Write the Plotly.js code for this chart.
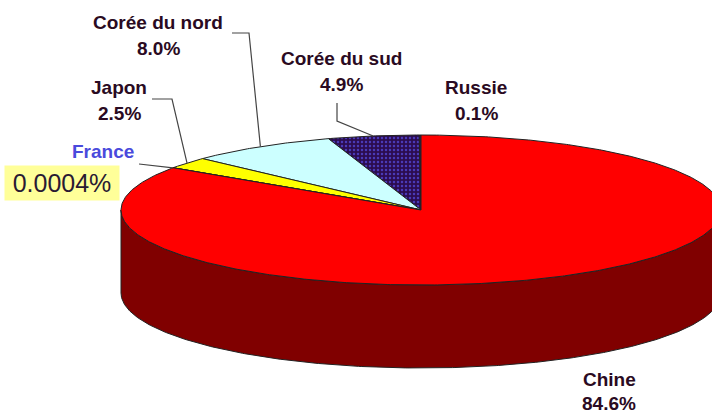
<!DOCTYPE html>
<html>
<head>
<meta charset="utf-8">
<script src="https://cdn.plot.ly/plotly-3.0.1.min.js"></script>
<style>html,body{margin:0;padding:0;background:#fff;}#chart{width:712px;height:415px;}</style>
</head>
<body>
<div id="chart"></div>
<script>
// ---- data (counter-clockwise order starting at 12 o'clock) ----
const categories = ['Russie', 'Corée du sud', 'Corée du nord', 'Japon', 'France', 'Chine'];
const shares = [0.1, 4.9, 8.0, 2.5, 0.0004, 84.6];
const sliceColors = ['#3a1466', '#2c0c50', '#ccffff', '#ffff00', '#ffff00', '#ff0000'];
const sideColors = ['#1d0a33', '#1d0a33', '#668080', '#808000', '#808000', '#800000'];

// ---- geometry / styling ----
const cx = 421, cy = 210, rx = 300, ry = 75, depth = 83;
const startAngle = 90;

function pt(deg, dz) {
  const r = deg * Math.PI / 180;
  return [cx + rx * Math.cos(r), cy - ry * Math.sin(r) + dz];
}
function fmt(v) { return (v >= 0.1 ? v.toFixed(1) : String(v)) + '%'; }

const total = shares.reduce((a, b) => a + b, 0);
let acc = startAngle;
const slices = shares.map((v, i) => {
  const span = v / total * 360;
  const s = { start: acc, end: acc + span, mid: acc + span / 2 };
  acc += span;
  return s;
});

const traces = [];
// side walls (front half: 180..360 deg, also 540..720)
slices.forEach((s, i) => {
  [[180, 360], [540, 720]].forEach(([lo0, hi0]) => {
    const lo = Math.max(s.start, lo0), hi = Math.min(s.end, hi0);
    if (hi <= lo) return;
    const xs = [], ys = [];
    const n = Math.max(2, Math.ceil((hi - lo) * 2));
    for (let k = 0; k <= n; k++) { const p = pt(lo + (hi - lo) * k / n, 0); xs.push(p[0]); ys.push(p[1]); }
    for (let k = n; k >= 0; k--) { const p = pt(lo + (hi - lo) * k / n, depth); xs.push(p[0]); ys.push(p[1]); }
    xs.push(xs[0]); ys.push(ys[0]);
    traces.push({ type: 'scatter', mode: 'lines', x: xs, y: ys, fill: 'toself',
      fillcolor: sideColors[i], line: { color: '#222', width: 1 }, hoverinfo: 'skip', name: categories[i] });
  });
});
// top faces
slices.forEach((s, i) => {
  const xs = [cx], ys = [cy];
  const n = Math.max(2, Math.ceil((s.end - s.start) * 2));
  for (let k = 0; k <= n; k++) { const p = pt(s.start + (s.end - s.start) * k / n, 0); xs.push(p[0]); ys.push(p[1]); }
  xs.push(cx); ys.push(cy);
  const tr = { type: 'scatter', mode: 'lines', x: xs, y: ys, fill: 'toself',
    fillcolor: sliceColors[i], line: { color: '#222', width: 1 }, hoverinfo: 'skip', name: categories[i] };
  if (categories[i] === 'Corée du sud') {
    tr.fillpattern = { shape: '.', fgcolor: '#4a3ab8', bgcolor: '#2c0c50', size: 4, solidity: 0.3 };
  }
  traces.push(tr);
});

// ---- labels ----
const labelPos = {
  'Corée du nord': { x: 158, y: 22, gap: 26, knee: [[232, 33], [249, 33]] },
  'Corée du sud': { x: 341, y: 58, gap: 26, knee: [[337, 103], [337, 121]] },
  'Japon': { x: 119, y: 87, gap: 26, knee: [[152, 99], [172, 99]] },
  'Russie': { x: 476, y: 87, gap: 26, knee: null },
  'France': { x: 103, y: 151, gap: 0, knee: [[139, 164]] },
  'Chine': { x: 609, y: 379, gap: 24, knee: null }
};
const annotations = [];
const shapes = [];
const txtColor = '#2a0a22';
const fam = 'Liberation Sans, Arial, sans-serif';
const fs = 19;
categories.forEach((c, i) => {
  const L = labelPos[c];
  if (c === 'France') {
    annotations.push({ xref: 'x', yref: 'y', x: L.x, y: L.y, text: '<b>' + c + '</b>', showarrow: false,
      font: { family: fam, size: fs, color: '#4a4adc' } });
    annotations.push({ xref: 'x', yref: 'y', x: 62, y: 183, text: fmt(shares[i]), showarrow: false,
      bgcolor: '#ffff99', width: 114, height: 34, borderpad: 0,
      font: { family: fam, size: 25, color: '#2a1a33' } });
  } else {
    annotations.push({ xref: 'x', yref: 'y', x: L.x, y: L.y, text: '<b>' + c + '</b>', showarrow: false,
      font: { family: fam, size: fs, color: txtColor } });
    annotations.push({ xref: 'x', yref: 'y', x: L.x, y: L.y + L.gap, text: '<b>' + fmt(shares[i]) + '</b>', showarrow: false,
      font: { family: fam, size: fs, color: txtColor } });
  }
  if (L.knee) {
    const end = pt(slices[i].mid, 0);
    const pts = L.knee.concat([end]);
    let d = 'M' + pts.map(p => p[0] + ',' + p[1]).join(' L');
    shapes.push({ type: 'path', xref: 'x', yref: 'y', path: d, line: { color: '#444', width: 1.2 } });
  }
});

const layout = {
  width: 712, height: 415,
  margin: { l: 0, r: 0, t: 0, b: 0 },
  paper_bgcolor: '#ffffff', plot_bgcolor: '#ffffff',
  showlegend: false,
  xaxis: { range: [0, 712], visible: false, fixedrange: true },
  yaxis: { range: [415, 0], visible: false, fixedrange: true },
  annotations: annotations,
  shapes: shapes
};
Plotly.newPlot('chart', traces, layout, { displayModeBar: false, staticPlot: true });
</script>
</body>
</html>
